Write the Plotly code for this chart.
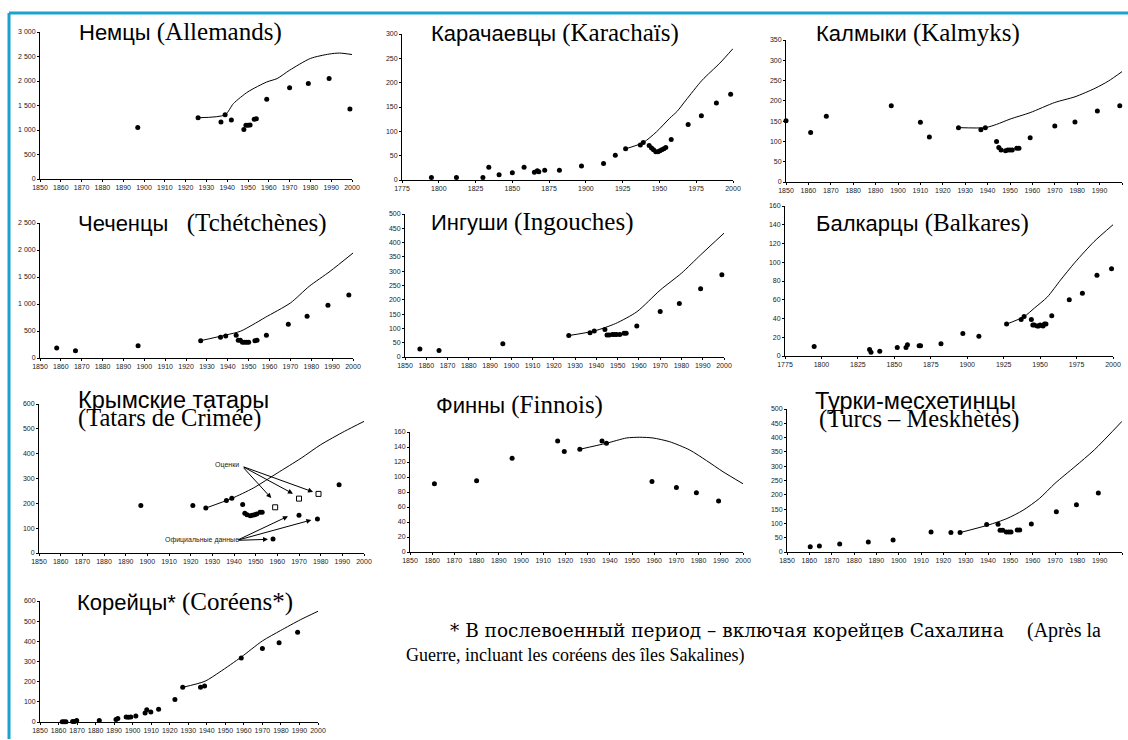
import plotly.graph_objects as go

W, H = 1128, 740

# ---------------- DATA ----------------
# Germans (Allemands)
de_year = [1897, 1926, 1937, 1939, 1942, 1948, 1949, 1950, 1951, 1953, 1954, 1959, 1970, 1979, 1989, 1999]
de_val = [1050, 1250, 1165, 1310, 1205, 1010, 1095, 1095, 1100, 1220, 1230, 1630, 1860, 1950, 2050, 1430]
de_line_year = [1926, 1939, 1943, 1950, 1959, 1964, 1970, 1980, 1989, 1994, 2000]
de_line_val = [1250, 1310, 1540, 1780, 1980, 2050, 2220, 2460, 2550, 2570, 2540]

# Karachays
kc_year = [1795, 1812, 1830, 1834, 1841, 1850, 1858, 1865, 1867, 1868, 1872, 1882, 1897, 1912, 1920,
           1927, 1937, 1939, 1943, 1944.6, 1946, 1947.5, 1949, 1950.3, 1951.6, 1953, 1954.3, 1958, 1969.5,
           1978.5, 1988.7, 1998.4]
kc_val = [5, 5, 5, 26, 11, 15, 26, 16, 19, 17, 20, 20, 29, 34, 51, 64, 72, 77, 71, 66, 62, 58, 58, 60,
          62, 64, 67, 83, 114, 132, 158, 176]
kc_line_year = [1927, 1939, 1948, 1957, 1962, 1968, 1979, 1991, 2000]
kc_line_val = [64, 77, 99, 127, 141, 164, 205, 240, 270]

# Kalmyks
km_year = [1850, 1861, 1868, 1897, 1910, 1914, 1927, 1937, 1939, 1944, 1945, 1946, 1948, 1949, 1950,
           1951, 1953, 1954, 1959, 1970, 1979, 1989, 1999]
km_val = [151, 122, 162, 188, 147, 111, 134, 129, 134, 100, 85, 79, 77, 79, 79, 79, 83, 83, 109, 138,
          148, 175, 188]
km_line_year = [1927, 1939, 1944, 1950, 1959, 1970, 1979, 1988, 1994, 2000]
km_line_val = [134, 134, 142, 155, 171, 196, 210, 231, 249, 272]

# Chechens
ch_year = [1858, 1867, 1897, 1927, 1936.5, 1939, 1944, 1945, 1946, 1947, 1948, 1949, 1950, 1953, 1954,
           1958.5, 1969, 1978, 1988, 1998]
ch_val = [185, 136, 228, 321, 383, 407, 420, 327, 327, 290, 290, 290, 290, 321, 327, 420, 623, 772,
          975, 1167]
ch_line_year = [1927, 1939, 1946, 1952, 1958, 1970, 1979, 1989, 2000]
ch_line_val = [321, 425, 494, 617, 753, 1019, 1327, 1605, 1944]

# Ingush
in_year = [1857, 1866, 1896, 1927, 1937, 1939, 1944, 1945, 1946, 1947.5, 1948.5, 1949.5, 1951, 1953,
           1954, 1959, 1970, 1979, 1989, 1999]
in_val = [28, 23, 46, 75, 85, 91, 96, 77, 77, 79, 79, 79, 79, 83, 83, 108, 159, 187, 239, 288]
in_line_year = [1927, 1939, 1949, 1959, 1970, 1980, 1989, 2000]
in_line_val = [75, 91, 117, 158, 234, 293, 357, 433]

# Balkars
bk_year = [1795, 1833, 1834, 1840, 1852, 1858, 1859, 1867, 1868, 1882, 1897, 1908, 1927, 1937, 1939,
           1944, 1945, 1946, 1948, 1949, 1950, 1952, 1953, 1954, 1958, 1970, 1979, 1989, 1999]
bk_val = [10, 7, 4, 5, 9, 9, 12, 11, 11, 13, 24, 21, 34, 39, 42, 39, 33, 33, 32, 32, 33, 32, 34, 34,
          43, 60, 67, 86, 93]
bk_line_year = [1927, 1939, 1946, 1955, 1964, 1974, 1987, 2000]
bk_line_val = [34, 42, 51, 63, 81, 100, 122, 140]

# Crimean Tatars
ct_year = [1897, 1921, 1927, 1936.5, 1939, 1944, 1945, 1946, 1947.5, 1948.5, 1949.5, 1950.5, 1952,
           1953, 1958, 1970, 1978.5, 1988.5]
ct_val = [191, 191, 181, 211, 220, 195, 160, 154, 150, 152, 154, 157, 164, 164, 56, 152, 137, 275]
ct_est_year = [1959, 1970, 1979]
ct_est_val = [184, 219, 238]
ct_line_year = [1927, 1939, 1949, 1960, 1971, 1980, 1991, 2000]
ct_line_val = [181, 220, 262, 322, 382, 436, 490, 530]

# Finns
fi_year = [1861, 1880, 1896, 1916.5, 1919.5, 1926.5, 1936.5, 1938.5, 1959, 1970, 1979, 1989]
fi_val = [91, 95, 125, 148, 134, 137, 148, 145, 94, 86, 79, 68]
fi_line_year = [1926.5, 1938.5, 1947.5, 1953.5, 1959.5, 1967, 1976, 1983.5, 1991, 2000]
fi_line_val = [137, 145, 152, 153, 152, 147, 136, 122, 107, 91]

# Meskhetian Turks
mt_year = [1847, 1860.4, 1864.5, 1873.6, 1886.4, 1897.5, 1914.5, 1923.4, 1927.5, 1939.4, 1944.5,
           1945.4, 1946.6, 1948.2, 1949.3, 1950.3, 1953.1, 1954.2, 1959.4, 1970.6, 1979.6, 1989.4]
mt_val = [14, 18, 21, 28, 35, 42, 70, 68, 68, 96, 97, 76, 76, 70, 70, 70, 77, 77, 98, 141, 165, 206]
mt_line_year = [1927.5, 1940, 1948.5, 1955.7, 1963, 1970, 1979, 1987.6, 2000]
mt_line_val = [68, 94, 117, 146, 187, 240, 299, 357, 457]

# Koreans
ko_year = [1862, 1863, 1864, 1867.6, 1868.7, 1869.8, 1882, 1891, 1892, 1896.5, 1897.7, 1899, 1901.7,
           1906.7, 1907.6, 1909.8, 1914, 1922.8, 1927, 1936.6, 1938.8, 1958.6, 1970, 1979, 1989]
ko_val = [1, 1, 1, 3, 3, 7, 7, 12, 17, 25, 23, 25, 30, 45, 61, 50, 63, 111, 172, 172, 179, 317, 364,
          393, 445]
ko_line_year = [1927, 1939, 1947, 1958.6, 1970, 1979.7, 1990.5, 2000]
ko_line_val = [172, 202, 248, 322, 402, 453, 507, 549]

# Titles (Cyrillic part, French part)
titles = [
    ("Немцы", "(Allemands)"),
    ("Карачаевцы", "(Karachaïs)"),
    ("Калмыки", "(Kalmyks)"),
    ("Чеченцы", "(Tchétchènes)"),
    ("Ингуши", "(Ingouches)"),
    ("Балкарцы", "(Balkares)"),
    ("Крымские татары", "(Tatars de Crimée)"),
    ("Финны", "(Finnois)"),
    ("Турки-месхетинцы", "(Turcs – Meskhètes)"),
    ("Корейцы*", "(Coréens*)"),
]
label_estimates = "Оценки"
label_official = "Официальные данные"
footnote_1_ru = "* В послевоенный период – включая корейцев Сахалина"
footnote_1_fr = "(Après la"
footnote_2 = "Guerre, incluant les coréens des îles Sakalines)"

# ---------------- LAYOUT HELPERS ----------------
SANS = "Liberation Sans, Arial, sans-serif"
SERIF = "Liberation Serif, Times New Roman, serif"
SERIF_WIDE = "DejaVu Serif, serif"
RU_SIZE, FR_SIZE = 22, 25

def px_x(p):
    return p / W

def px_y(p):
    return 1 - p / H

# plot-area pixel boxes (left, right, top, bottom), x-range, y-range, y dtick
panels = [
    dict(box=(40, 352, 32, 179), xr=(1850, 2000), xd=10, yr=(0, 3000), yd=500, fmt=",d"),
    dict(box=(402, 733, 34, 180), xr=(1775, 2000), xd=25, yr=(0, 300), yd=50, fmt="d"),
    dict(box=(786, 1122, 40, 182), xr=(1850, 2000), xd=10, yr=(0, 350), yd=50, fmt="d"),
    dict(box=(40, 353, 223, 358), xr=(1850, 2000), xd=10, yr=(0, 2500), yd=500, fmt=",d"),
    dict(box=(405, 724, 214, 357), xr=(1850, 2000), xd=10, yr=(0, 500), yd=50, fmt="d"),
    dict(box=(785, 1113, 206, 356), xr=(1775, 2000), xd=25, yr=(0, 160), yd=20, fmt="d"),
    dict(box=(39, 364, 404, 553), xr=(1850, 2000), xd=10, yr=(0, 600), yd=100, fmt="d"),
    dict(box=(410, 743, 432, 552), xr=(1850, 2000), xd=10, yr=(0, 160), yd=20, fmt="d"),
    dict(box=(787, 1122, 409, 552), xr=(1850, 2000), xd=10, yr=(0, 500), yd=50, fmt="d"),
    dict(box=(40, 318, 601, 722), xr=(1850, 2000), xd=10, yr=(0, 600), yd=100, fmt="d"),
]

series = [
    (de_year, de_val, de_line_year, de_line_val),
    (kc_year, kc_val, kc_line_year, kc_line_val),
    (km_year, km_val, km_line_year, km_line_val),
    (ch_year, ch_val, ch_line_year, ch_line_val),
    (in_year, in_val, in_line_year, in_line_val),
    (bk_year, bk_val, bk_line_year, bk_line_val),
    (ct_year, ct_val, ct_line_year, ct_line_val),
    (fi_year, fi_val, fi_line_year, fi_line_val),
    (mt_year, mt_val, mt_line_year, mt_line_val),
    (ko_year, ko_val, ko_line_year, ko_line_val),
]

fig = go.Figure()
layout = dict(
    template="none",
    width=W, height=H, margin=dict(l=0, r=0, t=0, b=0, pad=0), autosize=False,
    paper_bgcolor="white", plot_bgcolor="rgba(0,0,0,0)",
    showlegend=False, separators=". ",
)

tickfont = dict(family=SANS, size=7, color="#1a1a1a")

for i, (p, s) in enumerate(zip(panels, series), start=1):
    sfx = "" if i == 1 else str(i)
    l, r, t, b = p["box"]
    layout["xaxis" + sfx] = dict(
        domain=[px_x(l), px_x(r)], range=list(p["xr"]), anchor="y" + sfx,
        tick0=p["xr"][0], dtick=p["xd"], showline=True, linecolor="black", linewidth=1,
        ticks="outside", ticklen=2, tickwidth=1, tickcolor="black", showgrid=False,
        zeroline=False, tickfont=tickfont, tickformat="d", mirror=False,
    )
    layout["yaxis" + sfx] = dict(
        domain=[px_y(b), px_y(t)], range=list(p["yr"]), anchor="x" + sfx,
        tick0=0, dtick=p["yd"], showline=True, linecolor="black", linewidth=1,
        ticks="outside", ticklen=2, tickwidth=1, tickcolor="black", showgrid=False,
        zeroline=False, tickfont=tickfont, tickformat=p["fmt"], mirror=False,
    )
    xs, ys, lx, ly = s
    fig.add_trace(go.Scatter(
        x=lx, y=ly, mode="lines", xaxis="x" + sfx, yaxis="y" + sfx,
        line=dict(color="black", width=1, shape="spline", smoothing=0.7),
        hoverinfo="skip", cliponaxis=False,
    ))
    fig.add_trace(go.Scatter(
        x=xs, y=ys, mode="markers", xaxis="x" + sfx, yaxis="y" + sfx,
        marker=dict(color="black", size=5, line=dict(width=0)), cliponaxis=False,
    ))

# Crimean Tatar estimates (open squares)
fig.add_trace(go.Scatter(
    x=ct_est_year, y=ct_est_val, mode="markers", xaxis="x7", yaxis="y7",
    marker=dict(symbol="square-open", color="black", size=5, line=dict(width=1)),
    cliponaxis=False,
))

annotations = []

def ru_span(t, size=RU_SIZE):
    return f"<span style='font-family:{SANS};font-size:{size}px'>{t}</span>"

def fr_span(t, size=FR_SIZE):
    return f"<span style='font-family:{SERIF};font-size:{size}px'>{t}</span>"

one_line = {0: (78, 32), 1: (430, 33), 2: (815, 33), 3: (77, 223), 4: (430, 222),
            5: (815, 223), 7: (435, 405), 9: (76, 602)}
for idx, (xpx, ypx) in one_line.items():
    ru, fr = titles[idx]
    sep = "   " if idx == 3 else " "
    annotations.append(dict(
        x=px_x(xpx), y=px_y(ypx), xref="paper", yref="paper", xanchor="left", yanchor="middle",
        text=ru_span(ru) + sep + fr_span(fr), showarrow=False,
        font=dict(color="black", family=SANS, size=RU_SIZE), borderpad=0,
    ))

# Two-line titles: one text, tight leading set by small base font size
two_line = {6: (77, 409), 8: (814, 410)}
for idx, (xpx, ypx) in two_line.items():
    ru, fr = titles[idx]
    lead = " " if idx == 8 else ""
    annotations.append(dict(
        x=px_x(xpx), y=px_y(ypx), xref="paper", yref="paper", xanchor="left", yanchor="middle",
        text=ru_span(ru, 23.5) + "<br>" + lead + fr_span(fr, 24.5), showarrow=False, align="left",
        font=dict(color="black", family=SANS, size=14), borderpad=0,
    ))

# Crimean Tatar annotation labels and arrows
annotations.append(dict(x=1936.6, y=353, xref="x7", yref="y7", text=label_estimates,
                        showarrow=False, font=dict(family=SANS, size=7, color="#222")))
annotations.append(dict(x=1925.2, y=51, xref="x7", yref="y7", text=label_official,
                        showarrow=False, font=dict(family=SANS, size=7, color="#222")))
for hx, hy in [(1957.2, 221), (1967.2, 239), (1976.5, 246)]:
    annotations.append(dict(x=hx, y=hy, ax=1943.8, ay=349, xref="x7", yref="y7", axref="x7", ayref="y7",
                            text="", showarrow=True, arrowhead=2, arrowsize=1, arrowwidth=1,
                            arrowcolor="black", standoff=0, startstandoff=0))
for hx, hy in [(1964.9, 148), (1975.7, 133), (1955.7, 55)]:
    annotations.append(dict(x=hx, y=hy, ax=1941.4, ay=51, xref="x7", yref="y7", axref="x7", ayref="y7",
                            text="", showarrow=True, arrowhead=2, arrowsize=1, arrowwidth=1,
                            arrowcolor="black", standoff=0, startstandoff=0))

# Footnote (first line justified to the right margin)
annotations.append(dict(
    x=px_x(449), y=px_y(630), xref="paper", yref="paper", xanchor="left", yanchor="middle",
    text=footnote_1_ru, showarrow=False, font=dict(family=SERIF_WIDE, size=18.5, color="black"),
    borderpad=0))
annotations.append(dict(
    x=px_x(1102), y=px_y(630), xref="paper", yref="paper", xanchor="right", yanchor="middle",
    text=footnote_1_fr, showarrow=False, font=dict(family=SERIF, size=20, color="black"),
    borderpad=0))
annotations.append(dict(x=px_x(405), y=px_y(655), xref="paper", yref="paper", xanchor="left",
                        yanchor="middle", text=footnote_2, showarrow=False,
                        font=dict(family=SERIF, size=18, color="black"), borderpad=0))

layout["annotations"] = annotations

# Cyan frame (top and left)
layout["shapes"] = [
    dict(type="line", xref="paper", yref="paper", x0=px_x(9), x1=1, y0=px_y(13), y1=px_y(13),
         line=dict(color="#1aa3cc", width=3), layer="above"),
    dict(type="rect", xref="paper", yref="paper", x0=px_x(7.5), x1=px_x(10.5),
         y0=px_y(739), y1=px_y(13), line=dict(width=0), fillcolor="#1aa3cc", layer="above"),
]

fig.update_layout(**layout)
fig.write_html(
    "out.html",
    config={"displayModeBar": False},
    post_script="document.body.style.margin='0';document.body.style.overflow='hidden';"
                "document.documentElement.style.overflow='hidden';",
)
